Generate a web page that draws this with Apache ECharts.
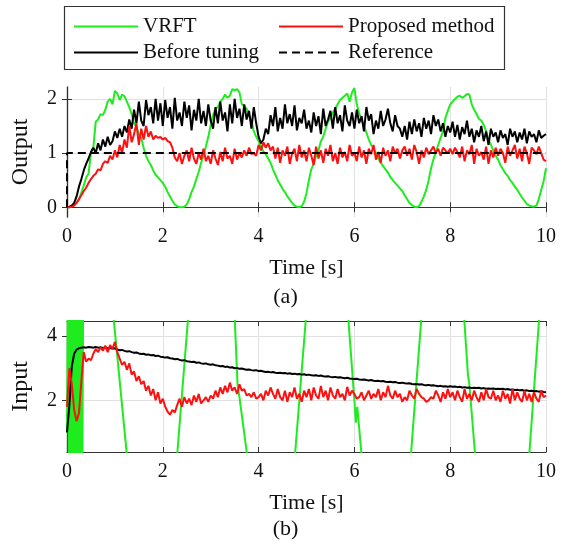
<!DOCTYPE html>
<html>
<head>
<meta charset="utf-8">
<script src="https://cdn.jsdelivr.net/npm/echarts@6/dist/echarts.min.js"></script>
<style>
  html, body { margin: 0; padding: 0; background: #fff; }
  #chart { width: 571px; height: 555px; }
</style>
</head>
<body>
<div id="chart"></div>
<script>
// time ticks and axis ticks
const timeTicks = [0, 2, 4, 6, 8, 10];
const outputTicks = [0, 1, 2];
const inputTicks = [2, 4];

// (a) output, sampled every 0.05 s
const dt = 0.05;

const vrftOut = [
  0, 0, 0.02, 0.05, 0.08, 0.15, 0.27, 0.4, 0.55, 0.62, 1.0, 1.1, 1.58, 1.62, 1.72, 1.7, 1.8, 1.95, 2.0, 1.9,
  2.15, 2.1, 1.98, 2.08, 2.05, 1.95, 1.85, 1.72, 1.55, 1.48, 1.35, 1.28, 1.1, 0.95, 0.85, 0.78, 0.68, 0.6, 0.55, 0.5,
  0.45, 0.38, 0.28, 0.2, 0.12, 0.05, 0.02, 0.0, 0.0, 0.01, 0.05, 0.15, 0.28, 0.38, 0.52, 0.65, 0.82, 0.95, 1.12, 1.3,
  1.52, 1.7, 1.82, 1.85, 1.95, 2.0, 2.08, 2.02, 2.06, 2.18, 2.16, 2.18, 2.12, 1.9, 1.86, 1.82, 1.7, 1.6, 1.4, 1.3,
  1.22, 1.12, 1.03, 0.98, 0.9, 0.82, 0.7, 0.6, 0.5, 0.42, 0.34, 0.28, 0.2, 0.14, 0.08, 0.03, 0.01, 0.0, 0.02, 0.1,
  0.26, 0.5, 0.7, 0.8, 0.95, 1.05, 1.22, 1.3, 1.45, 1.58, 1.65, 1.75, 1.82, 1.9, 1.98, 2.02, 2.06, 2.1, 1.95, 2.12,
  2.2, 1.9, 1.74, 1.62, 1.5, 1.38, 1.25, 1.15, 1.08, 1.0, 0.9, 0.82, 0.76, 0.7, 0.64, 0.56, 0.5, 0.45, 0.4, 0.35,
  0.3, 0.22, 0.15, 0.08, 0.04, 0.01, 0.0, 0.02, 0.1, 0.2, 0.32, 0.5, 0.72, 0.88, 1.02, 1.15, 1.28, 1.4, 1.65, 1.78,
  1.9, 1.95, 2.0, 2.04, 2.06, 2.02, 2.05, 2.09, 2.08, 1.9, 1.8, 1.72, 1.63, 1.6, 1.52, 1.4, 1.25, 1.15, 1.05, 0.95,
  0.88, 0.78, 0.7, 0.63, 0.58, 0.5, 0.45, 0.38, 0.32, 0.25, 0.18, 0.12, 0.06, 0.03, 0.02, 0.01, 0.03, 0.15, 0.32, 0.48,
  0.72
];

const beforeOut = [
  0, 0.01, 0.03, 0.08, 0.2, 0.38, 0.52, 0.68, 0.8, 0.9, 1.02, 1.1, 1.0, 1.18, 1.05, 1.25, 1.12, 1.3, 1.15, 1.22,
  1.4, 1.28, 1.45, 1.3, 1.5, 1.38, 1.62, 1.45, 1.8, 1.55, 1.95, 1.6, 1.5, 1.98, 1.7, 1.85, 1.55, 2.0, 1.6, 1.92,
  1.5, 1.98, 1.65, 1.85, 1.45, 2.02, 1.6, 1.75, 1.5, 1.95, 1.65, 1.88, 1.42, 1.8, 1.6, 2.0, 1.55, 1.78, 1.5, 1.9,
  1.6, 1.45, 1.85, 1.55, 1.95, 1.6, 1.75, 1.4, 1.9, 1.55, 2.0, 1.65, 1.82, 1.5, 1.9, 1.62, 1.78, 1.45, 1.85, 1.55,
  1.3, 1.18, 1.25, 1.45, 1.35, 1.7, 1.5, 1.85, 1.4, 1.65, 1.45, 1.9, 1.55, 1.72, 1.5, 1.88, 1.42, 1.65, 1.55, 1.8,
  1.45, 1.6, 1.38, 1.75, 1.5, 1.68, 1.35, 1.82, 1.5, 1.62, 1.78, 1.45, 1.85, 1.55, 1.7, 1.4, 1.88, 1.6, 1.5, 1.75,
  1.45, 1.8, 1.55, 1.68, 1.4, 1.85, 1.6, 1.72, 1.35, 1.6, 1.45, 1.78, 1.5, 1.62, 1.82, 1.55, 1.4, 1.7, 1.5, 1.45,
  1.3, 1.5, 1.25, 1.58, 1.35, 1.62, 1.4, 1.55, 1.3, 1.65, 1.45, 1.6, 1.35, 1.7, 1.5, 1.62, 1.4, 1.55, 1.3, 1.5,
  1.38, 1.58, 1.3, 1.52, 1.25, 1.48, 1.35, 1.6, 1.3, 1.45, 1.2, 1.42, 1.3, 1.5, 1.22, 1.4, 1.15, 1.45, 1.3, 1.38,
  1.2, 1.42, 1.28, 1.35, 1.15, 1.45, 1.3, 1.4, 1.2, 1.38, 1.25, 1.45, 1.18, 1.4, 1.3, 1.35, 1.2, 1.42, 1.28, 1.32,
  1.35
];

const proposedOut = [
  0, 0, 0.01, 0.03, 0.08, 0.15, 0.22, 0.3, 0.36, 0.45, 0.52, 0.58, 0.62, 0.7, 0.68, 0.8, 0.85, 0.82, 0.95, 0.88,
  1.05, 0.92, 1.15, 1.0, 1.25, 1.1, 1.5, 1.2, 1.35, 1.55, 1.15, 1.45, 1.25, 1.5, 1.3, 1.4, 1.25, 1.32, 1.28, 1.3,
  1.25, 1.28, 1.22, 1.2, 1.1, 0.92, 0.85, 1.0, 0.8, 0.95, 1.05, 0.85, 1.1, 0.9, 0.8, 1.0, 0.88, 1.08, 0.85, 0.95,
  0.8, 1.05, 0.9, 0.78, 1.02, 0.85, 1.1, 0.9, 0.95, 0.8, 1.08, 0.88, 1.0, 0.92, 1.05, 0.95, 1.1, 0.98, 1.0, 0.95,
  1.15, 1.05, 1.2, 1.1, 1.18, 1.05, 1.12, 0.9, 1.1, 0.82, 1.05, 0.95, 1.12, 0.8, 1.0, 1.08, 0.85, 1.15, 0.92, 1.05,
  0.85, 1.1, 0.95, 0.78, 1.12, 0.9, 1.05, 0.82, 1.08, 0.95, 1.15, 0.85, 1.0, 0.8, 1.1, 0.92, 1.02, 0.85, 1.15, 0.95,
  1.0, 0.85, 1.12, 0.92, 1.05, 0.8, 1.08, 0.98, 1.15, 0.88, 1.02, 0.82, 1.1, 0.95, 1.05, 0.85, 1.12, 1.0, 1.08, 0.9,
  1.05, 1.12, 0.95, 1.08, 0.88, 1.15, 1.02, 0.8, 1.05, 0.92, 1.1, 0.98, 1.05, 1.12, 1.0, 1.08, 0.95, 1.1, 1.05, 1.0,
  1.08, 0.98, 1.1, 1.02, 0.92, 1.12, 0.85, 1.05, 0.98, 1.15, 0.8, 1.08, 0.95, 1.02, 0.88, 1.12, 0.8, 1.05, 0.92, 1.1,
  0.95, 1.08, 1.0, 0.82, 1.12, 0.95, 1.05, 1.15, 0.9, 1.08, 0.85, 1.12, 1.0, 0.8, 1.1, 1.05, 0.98, 1.12, 1.0, 0.88,
  0.85
];

const referenceOut = [[0, 0], [0, 1], [10, 1]];

// (b) input, sampled every 0.05 s; VRFT input is mostly off scale, given as [t, u]
const beforeIn = [
  1.0, 1.85, 3.05, 3.45, 3.58, 3.62, 3.64, 3.65, 3.64, 3.66, 3.65, 3.64, 3.66, 3.64, 3.65, 3.63, 3.64, 3.62, 3.63, 3.61,
  3.62, 3.58, 3.56, 3.57, 3.54, 3.52, 3.53, 3.5, 3.48, 3.49, 3.46, 3.44, 3.45, 3.42, 3.43, 3.4, 3.41, 3.38, 3.39, 3.36,
  3.35, 3.33, 3.34, 3.31, 3.3, 3.28, 3.29, 3.26, 3.24, 3.25, 3.22, 3.21, 3.19, 3.2, 3.17, 3.18, 3.15, 3.14, 3.15, 3.12,
  3.11, 3.12, 3.09, 3.08, 3.06, 3.07, 3.04, 3.05, 3.02, 3.03, 3.0, 3.01, 2.98, 2.99, 2.97, 2.95, 2.96, 2.94, 2.93, 2.94,
  2.91, 2.92, 2.9, 2.88, 2.89, 2.87, 2.88, 2.86, 2.85, 2.86, 2.84, 2.85, 2.83, 2.84, 2.82, 2.83, 2.81, 2.82, 2.8, 2.81,
  2.79, 2.8, 2.78, 2.77, 2.78, 2.76, 2.77, 2.75, 2.74, 2.75, 2.73, 2.72, 2.73, 2.71, 2.72, 2.7, 2.69, 2.7, 2.68, 2.67,
  2.66, 2.67, 2.65, 2.64, 2.65, 2.63, 2.62, 2.63, 2.61, 2.6, 2.61, 2.59, 2.6, 2.58, 2.57, 2.58, 2.56, 2.57, 2.55, 2.54,
  2.55, 2.53, 2.52, 2.53, 2.51, 2.5, 2.51, 2.49, 2.5, 2.48, 2.47, 2.48, 2.46, 2.47, 2.45, 2.44, 2.45, 2.43, 2.44, 2.42,
  2.44, 2.42, 2.43, 2.41, 2.42, 2.4, 2.41, 2.39, 2.4, 2.38, 2.39, 2.38, 2.39, 2.37, 2.38, 2.36, 2.37, 2.36, 2.37, 2.35,
  2.36, 2.35, 2.36, 2.34, 2.35, 2.33, 2.34, 2.32, 2.33, 2.31, 2.32, 2.3, 2.31, 2.29, 2.3, 2.28, 2.29, 2.27, 2.28, 2.26,
  2.25
];

const proposedIn = [
  1.8, 3.0, 2.5, 1.7, 1.35, 1.6, 2.6, 3.5, 3.2, 3.3, 3.25, 3.45, 3.6, 3.5, 3.65, 3.55, 3.7, 3.5, 3.72, 3.6,
  3.82, 3.5, 3.3, 3.1, 3.2, 2.95, 3.15, 2.8, 2.9, 2.6, 2.75, 2.5, 2.6, 2.3, 2.45, 2.15, 2.35, 2.0, 2.25, 1.9,
  2.05, 1.8, 1.65, 1.55, 1.7, 1.62, 1.85, 2.05, 1.8, 2.1, 1.9, 2.05, 1.85, 2.15, 1.95, 2.2, 1.9, 2.0, 2.1, 1.95,
  2.15, 2.05, 2.3, 2.1, 2.4, 2.2, 2.45, 2.25, 2.55, 2.3, 2.4, 2.2, 2.5, 2.3, 2.35, 2.15, 2.2, 2.1, 2.25, 2.05,
  2.1, 2.2, 2.0, 2.3, 2.15, 2.4, 2.2, 2.05, 2.35, 2.1, 2.0, 2.3, 1.95, 2.25, 2.1, 2.4, 2.05, 2.2, 1.95, 2.3,
  2.1, 2.35, 2.0, 2.4, 2.15, 2.05, 2.45, 2.1, 2.3, 2.0, 2.4, 2.15, 2.05, 2.35, 2.1, 2.2, 2.0, 2.42, 2.15, 2.3,
  2.2, 2.05, 2.1, 2.25, 2.0, 2.15, 2.3, 2.05, 2.2, 2.1, 2.35, 2.0, 2.25, 2.1, 2.45, 2.15, 2.05, 2.3, 2.1, 2.2,
  1.95, 2.1, 2.0, 2.3, 2.15, 2.05, 2.35, 2.2, 2.1, 2.05, 1.95, 2.0, 2.1, 2.05, 2.3, 2.15, 1.95, 2.25, 2.05, 2.35,
  2.1, 2.25, 2.0, 2.3, 2.1, 1.95, 2.35, 2.05, 2.2, 2.0, 2.3, 2.1, 1.95, 2.25, 2.0, 2.35, 2.1, 2.05, 2.3, 2.0,
  2.15, 1.95, 2.3, 2.05, 2.2, 1.9, 2.35, 2.0, 2.25, 2.05, 1.95, 2.3, 2.0, 2.2, 1.95, 2.25, 2.05, 1.95, 2.3, 2.1,
  2.15
];

const vrftIn = [
  [0, 1.0], [0.02, 5.5], [0.04, -0.5], [0.06, 5.8], [0.08, -0.3], [0.1, 6.0], [0.12, -0.6],
  [0.14, 5.6], [0.16, -0.4], [0.18, 6.1], [0.2, -0.5], [0.22, 5.7], [0.24, -0.3], [0.26, 5.9],
  [0.28, -0.6], [0.3, 5.5], [0.32, -0.2], [0.34, 6.0], [0.6, 10],
  [0.97, 4.6], [1.25, 0.3], [1.8, -8],
  [2.3, 0.3], [2.53, 4.6], [3.0, 11],
  [3.5, 4.6], [3.56, 2.5], [3.6, 2.1], [3.76, 0.3], [4.3, -8],
  [4.76, 0.3], [4.99, 4.6], [5.4, 11],
  [5.87, 4.6], [6.0, 2.0], [6.03, 1.3], [6.06, 1.8], [6.15, 0.3], [6.7, -8],
  [7.18, 0.3], [7.4, 4.6], [7.85, 11],
  [8.29, 4.6], [8.37, 2.8], [8.4, 2.5], [8.52, 0.3], [9.1, -8],
  [9.65, 0.3], [9.86, 4.6], [10, 8]
];

const toPairs = vals => vals.map((v, i) => [+(i * dt).toFixed(2), v]);

const font = 'Liberation Serif';
const GREEN = '#1fec1f';
const RED = '#ff1010';
const BLACK = '#000000';

const chart = echarts.init(document.getElementById('chart'), null, { renderer: 'canvas' });

function xAxes(gridIndex) {
  return [
    {
      type: 'value', gridIndex, min: 0, max: 10, interval: 2,
      name: 'Time [s]', nameLocation: 'middle', nameGap: 40,
      nameTextStyle: { fontFamily: font, fontSize: 22, color: '#111' },
      axisLine: { lineStyle: { color: '#333', width: 1.2 } },
      axisTick: { inside: true, length: 5, lineStyle: { color: '#333' } },
      axisLabel: { fontFamily: font, fontSize: 20, color: '#111', margin: 10 },
      splitLine: { show: true, lineStyle: { color: '#e2e2e2', width: 1 } }
    },
    {
      type: 'value', gridIndex, min: 0, max: 10, interval: 2, position: 'top',
      axisLine: { lineStyle: { color: '#333', width: 1.2 } },
      axisTick: { inside: true, length: 5, lineStyle: { color: '#333' } },
      axisLabel: { show: false },
      splitLine: { show: false }
    }
  ];
}

function yAxes(gridIndex, min, max, ticks, name) {
  return [
    {
      type: 'value', gridIndex, min, max,
      name, nameLocation: 'middle', nameGap: 34,
      nameTextStyle: { fontFamily: font, fontSize: 24, color: '#111' },
      axisLine: { show: true, lineStyle: { color: '#333', width: 1.2 } },
      axisTick: { show: true, inside: true, length: 5, customValues: ticks, lineStyle: { color: '#333' } },
      axisLabel: { fontFamily: font, fontSize: 20, color: '#111', margin: 10, customValues: ticks },
      splitLine: { show: true, lineStyle: { color: '#e2e2e2', width: 1 } }
    },
    {
      type: 'value', gridIndex, min, max, position: 'right',
      axisLine: { show: true, lineStyle: { color: '#333', width: 1.2 } },
      axisTick: { show: true, inside: true, length: 5, customValues: ticks, lineStyle: { color: '#333' } },
      axisLabel: { show: false },
      splitLine: { show: false }
    }
  ];
}

function line(name, data, color, xi, yi, extra) {
  return Object.assign({
    name, type: 'line', data, xAxisIndex: xi, yAxisIndex: yi,
    symbol: 'none', showSymbol: false, clip: true,
    lineStyle: { color, width: 2 }, itemStyle: { color }
  }, extra || {});
}

function legendAt(name, left, top) {
  return {
    data: [name], left, top, itemWidth: 64, itemHeight: 14,
    itemStyle: { opacity: 0 },
    textStyle: { fontFamily: font, fontSize: 21, color: '#111' },
    selectedMode: false
  };
}

const option = {
  animation: false,
  backgroundColor: '#fff',
  grid: [
    { left: 67, top: 87, width: 479, height: 130 },
    { left: 67, top: 321, width: 479, height: 131 }
  ],
  legend: [
    legendAt('VRFT', 68, 11),
    legendAt('Proposed method', 273, 11),
    legendAt('Before tuning', 68, 37),
    legendAt('Reference', 273, 37)
  ],
  graphic: [
    { type: 'rect', left: 62, top: 4, shape: { width: 440, height: 63 }, style: { fill: 'none', stroke: '#333', lineWidth: 1.2 } },
    { type: 'text', left: 'center', top: 286, style: { text: '(a)', font: '22px "Liberation Serif"', fill: '#111' } },
    { type: 'text', left: 'center', top: 518, style: { text: '(b)', font: '22px "Liberation Serif"', fill: '#111' } }
  ],
  xAxis: [...xAxes(0), ...xAxes(1)],
  yAxis: [
    ...yAxes(0, -0.18, 2.22, outputTicks, 'Output'),
    ...yAxes(1, 0.39, 4.47, inputTicks, 'Input')
  ],
  series: [
    line('VRFT', toPairs(vrftOut), GREEN, 0, 0),
    line('Before tuning', toPairs(beforeOut), BLACK, 0, 0),
    line('Proposed method', toPairs(proposedOut), RED, 0, 0),
    line('Reference', referenceOut, BLACK, 0, 0, { lineStyle: { color: BLACK, width: 2, type: [8, 5] } }),
    line('VRFT', vrftIn, GREEN, 2, 2),
    line('Before tuning', toPairs(beforeIn), BLACK, 2, 2),
    line('Proposed method', toPairs(proposedIn), RED, 2, 2)
  ]
};

chart.setOption(option);
</script>
</body>
</html>
